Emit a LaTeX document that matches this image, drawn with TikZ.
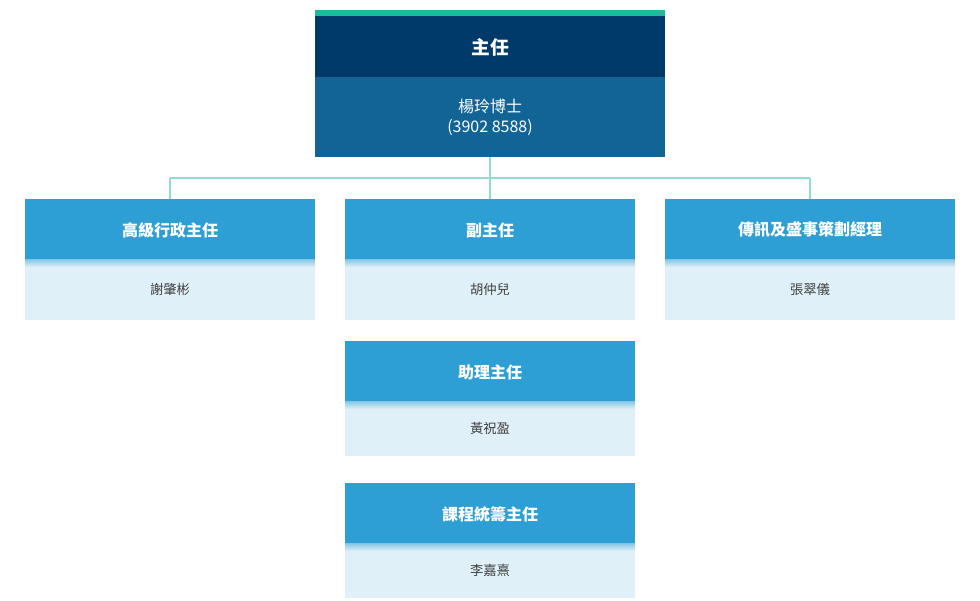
\documentclass[tikz,border=0pt]{standalone}
\usepackage{fontspec}
\setmainfont{Noto Sans CJK TC}
\begin{document}
\begin{tikzpicture}[x=0.75pt,y=-0.75pt]
\definecolor{teal}{HTML}{1ABC9C}
\definecolor{darkhead}{HTML}{003A6B}
\definecolor{darkbody}{HTML}{126497}
\definecolor{head}{HTML}{2E9FD4}
\definecolor{body}{HTML}{E0F0F8}
\definecolor{line}{HTML}{8FDCD0}
\tikzset{
 ht/.style={text=white,font=\fontsize{12}{14}\selectfont\bfseries},
 bt/.style={text=black!75,font=\fontsize{10}{12}\selectfont},
}
\useasboundingbox (0,0) rectangle (980,600);
% connectors
\coordinate (jc) at (490,178);
\coordinate (jl) at (170,178);
\coordinate (jr) at (810,178);
\draw[line,line width=1.5pt] (490,157) -- (jc) (jl) -- (jr) (jl) -- (170,199) (jc) -- (490,199) (jr) -- (810,199);
% top
\fill[teal] (315,10) rectangle (665,16);
\fill[darkhead] (315,16) rectangle (665,77);
\fill[darkbody] (315,77) rectangle (665,157);
\node[ht,font=\fontsize{14}{16}\selectfont\bfseries] (top) at (490,47) {主任};
\node[text=white,font=\fontsize{12}{15}\selectfont,align=center] (topn) at (490,117) {楊玲博士\\(3902 8588)};
% boxes
\foreach \x/\y/\b/\h/\n/\id in {25/199/320/高級行政主任/謝肇彬/a, 345/199/320/副主任/胡仲兒/b, 665/199/320/傳訊及盛事策劃經理/張翠儀/c, 345/341/456/助理主任/黃祝盈/d, 345/483/598/課程統籌主任/李嘉熹/e}{
 \fill[body] (\x,\y+60) rectangle (\x+290,\b);
 \shade[top color=head!60,bottom color=body] (\x,\y+60) rectangle (\x+290,\y+68);
 \fill[head] (\x,\y) rectangle (\x+290,\y+60);
 \node[ht] (h\id) at (\x+145,\y+31) {\h};
 \node[bt] (n\id) at (\x+145,{(\y+60+\b)/2}) {\n};
}
\end{tikzpicture}
\end{document}
